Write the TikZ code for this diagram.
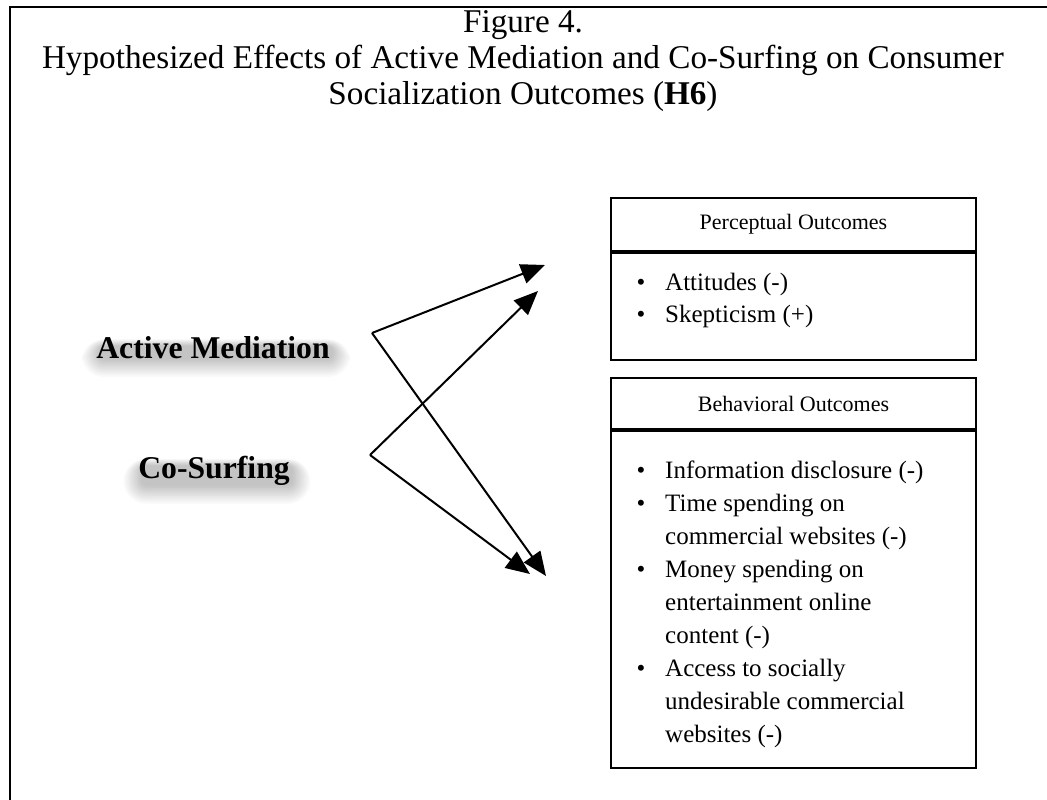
\documentclass[tikz,border=0pt]{standalone}
\usepackage{fontspec}
\setmainfont{Liberation Serif}
\usetikzlibrary{arrows.meta}
\pgfdeclarelayer{haze}
\pgfsetlayers{haze,main}
\begin{document}
\begin{tikzpicture}[x=1pt,y=-1pt,
  frameline/.style={line width=2.2pt},
  titletext/.style={font=\fontsize{33.2}{38}\selectfont, anchor=base, inner sep=0pt},
  srclabel/.style={font=\fontsize{31.7}{36}\selectfont\bfseries, anchor=base, inner sep=0pt},
  hazelayer/.style={fill=black, fill opacity=0.019},
  boxpart/.style={draw, line width=2pt, anchor=north west, minimum width=365pt, inner sep=0pt},
  headtext/.style={font=\fontsize{22}{26}\selectfont},
  itemtext/.style={font=\fontsize{25}{33}\selectfont, anchor=base west, inner sep=0pt},
  bullettext/.style={font=\fontsize{25}{33}\selectfont, anchor=base, inner sep=0pt},
  link/.style={line width=2pt, -{Triangle[length=24pt,width=20pt]}}
]
\begin{pgfonlayer}{haze}
\fill[white] (0,0) rectangle (1047,800);
\end{pgfonlayer}
\useasboundingbox (0,0) rectangle (1047,800);

% outer frame (left and top edges)
\draw[frameline] (10,800) -- (10,7) -- (1047,7);

% title
\node[titletext] (title1) at (523,33) {Figure 4.};
\node[titletext] (title2) at (523,69) {Hypothesized Effects of Active Mediation and Co-Surfing on Consumer};
\node[titletext] (title3) at (523,104) {Socialization Outcomes (\textbf{H6})};

% sources
\node[srclabel] (am) at (213,358) {Active Mediation};
\node[srclabel] (cs) at (214,478) {Co-Surfing};

% soft haze beneath the source labels, built from stacked translucent layers
\begin{pgfonlayer}{haze}
\foreach \lbl in {am,cs}{
  \foreach \k in {0,...,11}{
    \pgfmathsetmacro\e{1.6*\k}
    \pgfmathsetmacro\eu{0.6*\k}
    \pgfmathsetmacro\rr{5+1.6*\k}
    \fill[hazelayer, rounded corners=\rr pt]
      ([xshift=3pt-\e pt, yshift=-1pt-\e pt]\lbl.south west) rectangle
      ([xshift=3pt+\e pt, yshift=-10pt+\eu pt]\lbl.north east);
  }
}
\end{pgfonlayer}

% perceptual outcomes box
\node[boxpart, minimum height=53pt, headtext] (phead) at (610,197) {Perceptual Outcomes};
\node[boxpart, minimum height=107pt] (pbody) at (phead.south west) {};
\foreach \y/\t [count=\i] in {290/{Attitudes (-)}, 322/{Skepticism (+)}}{
  \node[bullettext] (pb\i) at (641,\y) {\textbullet};
  \node[itemtext] (pt\i) at (665,\y) {\t};
}

% behavioral outcomes box
\node[boxpart, minimum height=51pt, headtext] (bhead) at (610,377) {Behavioral Outcomes};
\node[boxpart, minimum height=337pt] (bbody) at (bhead.south west) {};
\foreach \y/\t [count=\i] in {
  478/{Information disclosure (-)},
  511/{Time spending on},
  544/{commercial websites (-)},
  577/{Money spending on},
  610/{entertainment online},
  643/{content (-)},
  676/{Access to socially},
  709/{undesirable commercial},
  742/{websites (-)}}{
  \node[itemtext] (bt\i) at (665,\y) {\t};
}
\foreach \y [count=\i] in {478,511,577,676}{
  \node[bullettext] (bb\i) at (641,\y) {\textbullet};
}

% arrow ends
\coordinate (amv) at (372,333);
\coordinate (csv) at (370,455);
\coordinate (amtop) at (545,265);
\coordinate (cstop) at (538,291);
\coordinate (ambot) at (546,576);
\coordinate (csbot) at (530,574);

\draw[link] (amv) -- (amtop);
\draw[link] (amv) -- (ambot);
\draw[link] (csv) -- (cstop);
\draw[link] (csv) -- (csbot);
\end{tikzpicture}
\end{document}
